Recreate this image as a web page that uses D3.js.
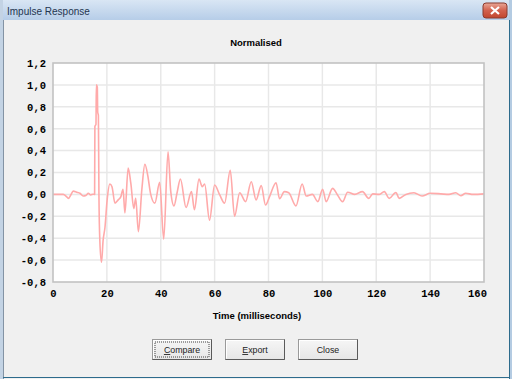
<!DOCTYPE html>
<html>
<head>
<meta charset="utf-8">
<script src="https://cdn.jsdelivr.net/npm/d3@7"></script>
<style>
  body { margin: 0; background: #f0f0f0; overflow: hidden; }
  svg { display: block; }
</style>
</head>
<body>
<div id="chart"></div>
<script>
// Impulse response samples (ms, normalised amplitude)
const times = [0, 3.8, 5.0, 5.7, 6.6, 7.5, 8.8, 10, 11.2, 12.2, 13.1, 14, 14.8, 15.45, 15.55,
  15.95, 16.1, 16.45, 16.6, 16.85, 17.05, 17.4, 18.0, 18.6, 19.3, 20.1, 21.1, 21.9, 23, 24.2,
  25.2, 26.0, 26.7, 27.9, 28.9, 30, 30.7, 31.7, 33.0, 34.1, 35.2, 36.2, 37.8, 39.6, 41.1,
  42.7, 43.7, 44.9, 46.1, 47.3, 49.4, 51.4, 52.5, 54.2, 55.4, 56.3, 58.1, 60, 61.9, 63.7,
  65.8, 67.4, 69.3, 71.5, 73.6, 75.4, 77.3, 78.9, 80.4, 82.8, 84.1, 85.9, 87.5, 90.2, 92.5,
  94, 96.3, 98.3, 100.1, 101.4, 103.8, 105.5, 107.5, 109.4, 112, 114.9, 117.2, 118.7, 121, 123,
  124.8, 127.3, 128.5, 131, 134, 137, 140, 144, 147, 149.5, 151.4, 153.2, 156, 160];
const values = [0, 0, -0.02, -0.036, -0.005, 0.03, 0.02, 0.01, -0.015, -0.01, 0.01, -0.005, 0.002, 0.0, 0.62,
  0.64, 1.0, 0.98, 0.75, 0.72, 0.0, -0.43, -0.62, -0.42, -0.3, -0.05, 0.095, 0.07, -0.08, -0.05,
  -0.02, 0.047, -0.17, 0.24, 0.1, -0.13, -0.035, -0.34, 0.05, 0.275, 0.17, 0.01, -0.08, 0.11, -0.41,
  0.39, 0.03, -0.105, 0.02, 0.14, -0.12, 0.025, -0.14, 0.14, 0.07, 0.095, -0.235, 0.086, -0.005, -0.08,
  0.22, -0.2, 0.015, -0.066, 0.116, -0.05, 0.08, -0.097, -0.02, 0.107, -0.04, 0.025, 0.015, -0.105, 0.095,
  -0.015, 0.0, -0.066, 0.047, -0.066, 0.055, 0.0, -0.066, 0.02, 0.0, 0.025, -0.036, 0.005, 0.0, 0.025,
  -0.036, 0.018, -0.036, 0.0, 0.015, -0.015, 0.01, 0.005, 0.0, 0.015, -0.012, 0.01, 0.0, 0.005];

const xTicks = [0, 20, 40, 60, 80, 100, 120, 140, 160];
const yTicks = [-0.8, -0.6, -0.4, -0.2, 0.0, 0.2, 0.4, 0.6, 0.8, 1.0, 1.2];
const buttonLabels = ['Compare', 'Export', 'Close'];

const W = 512, H = 379;
const plot = { left: 53, right: 484, top: 63, bottom: 282 };

const svg = d3.select('#chart').append('svg')
  .attr('width', W)
  .attr('height', H);

const defs = svg.append('defs');
const tg = defs.append('linearGradient').attr('id', 'titleGrad').attr('x1', 0).attr('y1', 0).attr('x2', 0).attr('y2', 1);
tg.append('stop').attr('offset', 0).attr('stop-color', '#d9e6f4');
tg.append('stop').attr('offset', 1).attr('stop-color', '#b6cde8');
const cg = defs.append('linearGradient').attr('id', 'closeGrad').attr('x1', 0).attr('y1', 0).attr('x2', 0).attr('y2', 1);
cg.append('stop').attr('offset', 0).attr('stop-color', '#e9a898');
cg.append('stop').attr('offset', 0.5).attr('stop-color', '#d2614e');
cg.append('stop').attr('offset', 1).attr('stop-color', '#c2462f');
const bg = defs.append('linearGradient').attr('id', 'btnGrad').attr('x1', 0).attr('y1', 0).attr('x2', 0).attr('y2', 1);
bg.append('stop').attr('offset', 0).attr('stop-color', '#f6f6f6');
bg.append('stop').attr('offset', 1).attr('stop-color', '#e6e6e6');
defs.append('clipPath').attr('id', 'plotClip')
  .append('rect')
  .attr('x', plot.left).attr('y', plot.top)
  .attr('width', plot.right - plot.left).attr('height', plot.bottom - plot.top);

// window chrome
svg.append('rect').attr('width', W).attr('height', H).attr('fill', '#f0f0f0');
svg.append('rect').attr('width', W).attr('height', 20).attr('fill', 'url(#titleGrad)');
svg.append('rect').attr('x', 0).attr('y', 0).attr('width', 3).attr('height', H).attr('fill', '#c3d3e4');
svg.append('line').attr('x1', 3.5).attr('x2', 3.5).attr('y1', 20).attr('y2', H).attr('stroke', '#8393a4');
svg.append('rect').attr('x', 509).attr('y', 0).attr('width', 3).attr('height', H).attr('fill', '#b4cbe2');
svg.append('line').attr('x1', 509.5).attr('x2', 509.5).attr('y1', 20).attr('y2', H).attr('stroke', '#2d6b8c');
svg.append('line').attr('x1', 3).attr('x2', 510).attr('y1', 377.5).attr('y2', 377.5).attr('stroke', '#2d6b8c');
svg.append('text')
  .attr('x', 7).attr('y', 14.5)
  .attr('font-family', 'Liberation Sans, Arial, sans-serif')
  .attr('font-size', '10px')
  .attr('fill', '#1f3550')
  .text('Impulse Response');

const closeBtn = svg.append('g').attr('transform', 'translate(483,3)');
closeBtn.append('rect').attr('width', 24).attr('height', 15).attr('rx', 3)
  .attr('fill', 'url(#closeGrad)').attr('stroke', '#8a3a2e');
closeBtn.append('path').attr('d', 'M8,4 L16,11 M16,4 L8,11')
  .attr('stroke', '#fff').attr('stroke-width', 2.2);

// scales
const x = d3.scaleLinear().domain([0, 160]).range([plot.left, plot.right]);
const y = d3.scaleLinear().domain([-0.8, 1.2]).range([plot.bottom, plot.top]);

// plot area
svg.append('rect')
  .attr('x', plot.left).attr('y', plot.top)
  .attr('width', plot.right - plot.left).attr('height', plot.bottom - plot.top)
  .attr('fill', '#ffffff');

svg.append('g').selectAll('line').data(xTicks.slice(1, -1)).enter().append('line')
  .attr('x1', d => x(d)).attr('x2', d => x(d))
  .attr('y1', plot.top).attr('y2', plot.bottom)
  .attr('stroke', '#e8e8e8').attr('stroke-width', 1.5);
svg.append('g').selectAll('line').data(yTicks.slice(1, -1)).enter().append('line')
  .attr('x1', plot.left).attr('x2', plot.right)
  .attr('y1', d => y(d)).attr('y2', d => y(d))
  .attr('stroke', '#e8e8e8').attr('stroke-width', 1.5);

// response curve
const pts = times.map((t, i) => [t, values[i]]);
const line = d3.line()
  .x(d => x(d[0]))
  .y(d => y(d[1]))
  .curve(d3.curveMonotoneX);
svg.append('path')
  .datum(pts)
  .attr('clip-path', 'url(#plotClip)')
  .attr('fill', 'none')
  .attr('stroke', '#ffaaaa')
  .attr('stroke-width', 1.6)
  .attr('stroke-linejoin', 'round')
  .attr('d', line);

svg.append('rect')
  .attr('x', plot.left).attr('y', plot.top)
  .attr('width', plot.right - plot.left).attr('height', plot.bottom - plot.top)
  .attr('fill', 'none')
  .attr('stroke', '#c2c2c2').attr('stroke-width', 1.6);

// axes
const fmt = d => d.toFixed(1).replace('.', ',');
const yAxis = svg.append('g')
  .attr('transform', `translate(${plot.left},0)`)
  .call(d3.axisLeft(y).tickValues(yTicks).tickSize(0).tickPadding(7).tickFormat(fmt));
const xAxis = svg.append('g')
  .attr('transform', `translate(0,${plot.bottom})`)
  .call(d3.axisBottom(x).tickValues(xTicks).tickSize(0).tickPadding(8).tickFormat(d3.format('d')));
[xAxis, yAxis].forEach(a => {
  a.select('.domain').remove();
  a.selectAll('text')
    .attr('font-family', 'Liberation Mono, Courier New, monospace')
    .attr('font-weight', 'bold')
    .attr('font-size', '10.5px')
    .attr('fill', '#000');
});
xAxis.selectAll('.tick').filter(d => d === 160).select('text').attr('dx', -7);

// titles
svg.append('text')
  .attr('x', 256).attr('y', 45.5)
  .attr('text-anchor', 'middle')
  .attr('font-family', 'Liberation Sans, Arial, sans-serif')
  .attr('font-weight', 'bold')
  .attr('font-size', '9.5px')
  .text('Normalised');
svg.append('text')
  .attr('x', 257).attr('y', 319)
  .attr('text-anchor', 'middle')
  .attr('font-family', 'Liberation Sans, Arial, sans-serif')
  .attr('font-weight', 'bold')
  .attr('font-size', '9.5px')
  .text('Time (milliseconds)');

// buttons
const btn = svg.append('g').selectAll('g').data(buttonLabels).enter().append('g')
  .attr('transform', (d, i) => `translate(${152.5 + i * 73},339.5)`);
btn.append('rect').attr('width', 59).attr('height', 20)
  .attr('fill', 'url(#btnGrad)').attr('stroke', '#9a9a9a');
btn.append('path').attr('d', 'M1,19 L1,1 L58,1').attr('fill', 'none').attr('stroke', '#ffffff');
btn.append('path').attr('d', 'M0,20 L59,20 L59,0').attr('fill', 'none').attr('stroke', '#5a5a5a');
btn.filter(d => d === 'Compare').append('rect')
  .attr('x', 2.5).attr('y', 2.5).attr('width', 54).attr('height', 15)
  .attr('fill', 'none').attr('stroke', '#444').attr('stroke-dasharray', '1,1');
const bt = btn.append('text')
  .attr('x', 29.5).attr('y', 13.5)
  .attr('text-anchor', 'middle')
  .attr('font-family', 'Liberation Sans, Arial, sans-serif')
  .attr('font-size', '8.8px')
  .attr('fill', '#222');
bt.each(function(d) {
  const t = d3.select(this);
  if (d === 'Close') { t.text(d); return; }
  t.append('tspan').attr('text-decoration', 'underline').text(d[0]);
  t.append('tspan').text(d.slice(1));
});
</script>
</body>
</html>
